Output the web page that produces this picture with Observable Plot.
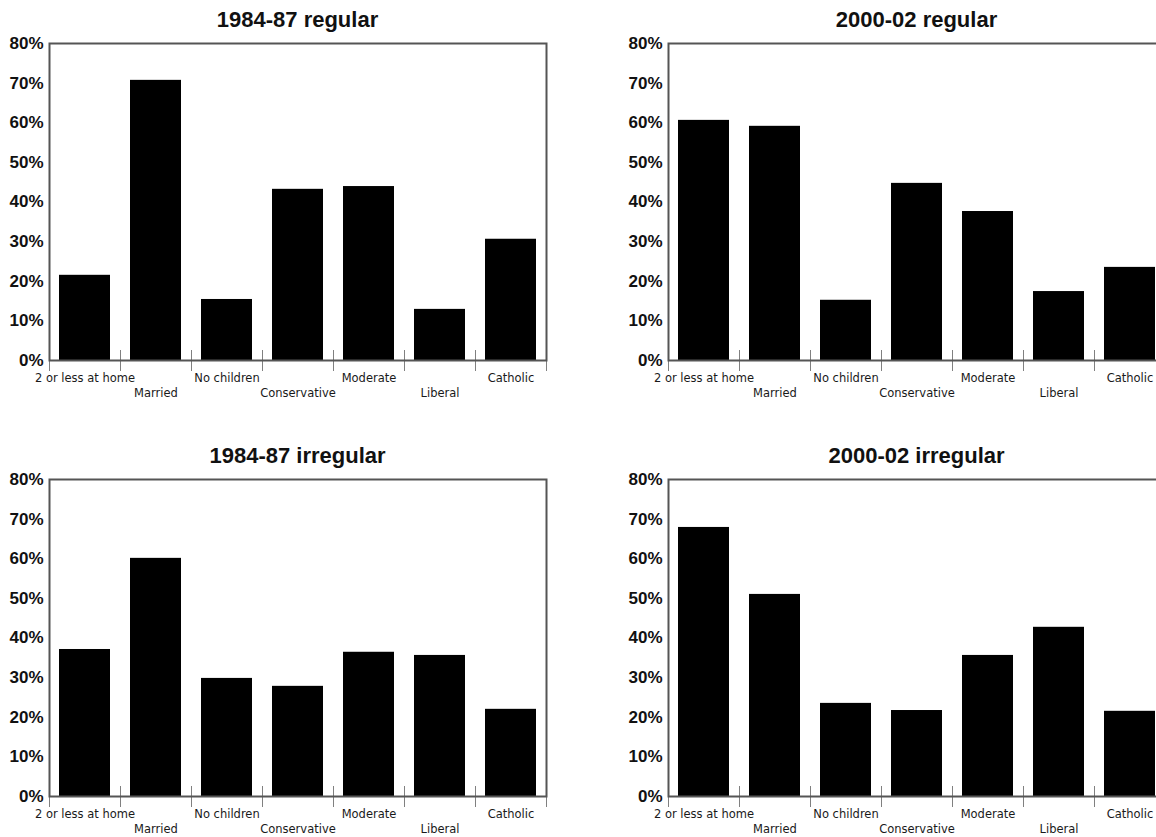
<!DOCTYPE html>
<html><head><meta charset="utf-8">
<script src="https://cdn.jsdelivr.net/npm/d3@7"></script>
<script src="https://cdn.jsdelivr.net/npm/@observablehq/plot@0.6"></script>
<style>
html,body{margin:0;padding:0;background:#fff;overflow:hidden;width:1156px;height:837px;}
#root{position:relative;width:1156px;height:837px;overflow:hidden;}
.panel{position:absolute;}
.title{position:absolute;text-align:center;font:bold 22px "Liberation Sans",Arial,sans-serif;color:#111;line-height:24px;white-space:nowrap;}
</style></head><body><div id="root"></div>
<script>
const categories = ["2 or less at home","Married","No children","Conservative","Moderate","Liberal","Catholic"];
const regular8487 = [21.5, 70.7, 15.4, 43.2, 43.9, 12.9, 30.6];
const regular0002 = [60.6, 59.1, 15.2, 44.7, 37.6, 17.4, 23.5];
const irregular8487 = [37.1, 60.1, 29.8, 27.8, 36.4, 35.6, 22.0];
const irregular0002 = [67.9, 51.0, 23.5, 21.7, 35.6, 42.7, 21.5];
const yTicks = [0, 10, 20, 30, 40, 50, 60, 70, 80];
const panelTitles = ["1984-87 regular", "2000-02 regular", "1984-87 irregular", "2000-02 irregular"];

const root = document.getElementById("root");

function makePanel(values, title, left, top) {
  const W = 560, ml = 49, mr = 14, mt = 10, mb = 45, H = mt + 317 + mb;
  const step = (W - ml - mr) / categories.length;
  const data = categories.map((c, i) => ({category: c, value: values[i], i}));
  const plot = Plot.plot({
    width: W, height: H,
    marginLeft: ml, marginRight: mr, marginTop: mt, marginBottom: mb,
    style: {background: "transparent", overflow: "visible", fontFamily: "'Liberation Sans', Arial, sans-serif"},
    x: {type: "band", domain: categories, paddingInner: 0.28, paddingOuter: 0.14, axis: null},
    y: {domain: [0, 80], axis: null},
    marks: [
      Plot.barY(data, {x: "category", y: "value", fill: "black"}),
      Plot.ruleX(categories, {x: d => d, y1: 0, y2: 0, insetTop: -10, insetBottom: -11, dx: -step / 2, stroke: "#808080", strokeWidth: 1}),
      Plot.ruleX([categories[categories.length - 1]], {x: d => d, y1: 0, y2: 0, insetTop: -10, insetBottom: -11, dx: step / 2, stroke: "#808080", strokeWidth: 1}),
      Plot.frame({stroke: "#555", strokeWidth: 2}),
      Plot.axisY({ticks: yTicks, tickFormat: d => d + "%", tickSize: 0, tickPadding: 6, fontSize: 17, fontWeight: "bold", fill: "#111", label: null}),
      Plot.text(data.filter(d => d.i % 2 === 0), {x: "category", y: 0, text: "category", dy: 18, fontFamily: "DejaVu Sans", fontSize: 11.5, fill: "#1a1a1a"}),
      Plot.text(data.filter(d => d.i % 2 === 1), {x: "category", y: 0, text: "category", dy: 33, fontFamily: "DejaVu Sans", fontSize: 11.5, fill: "#1a1a1a"})
    ]
  });
  plot.classList.add("panel");
  plot.style.left = left + "px";
  plot.style.top = top + "px";
  root.appendChild(plot);
  const t = document.createElement("div");
  t.className = "title";
  t.textContent = title;
  t.style.left = (left + ml) + "px";
  t.style.width = (W - ml - mr) + "px";
  t.style.top = (top - 25) + "px";
  root.appendChild(t);
}

makePanel(regular8487, panelTitles[0], 0, 33);
makePanel(regular0002, panelTitles[1], 619, 33);
makePanel(irregular8487, panelTitles[2], 0, 469);
makePanel(irregular0002, panelTitles[3], 619, 469);
</script></body></html>
